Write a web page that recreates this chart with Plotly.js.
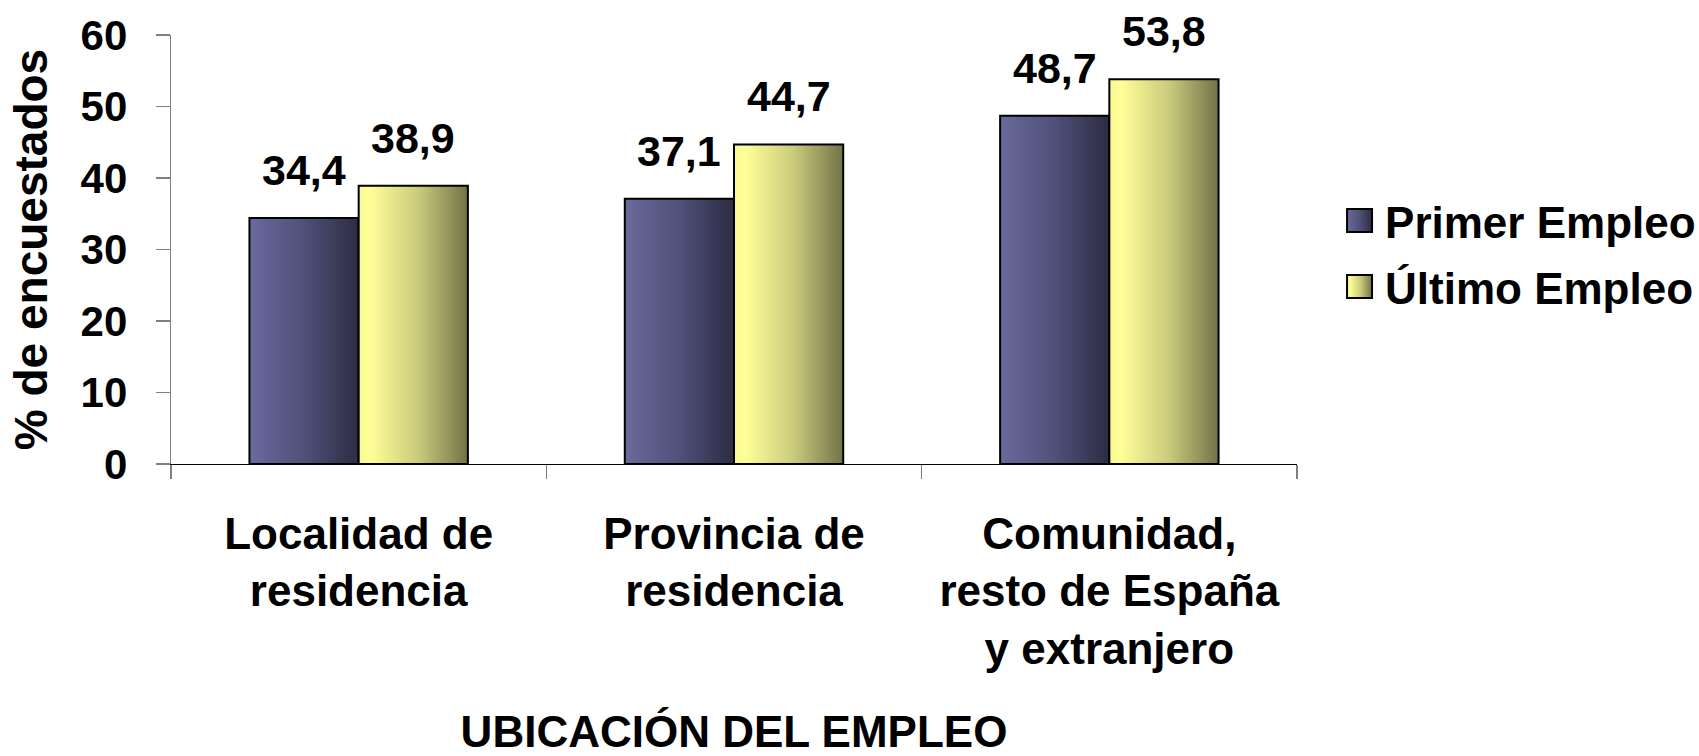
<!DOCTYPE html>
<html>
<head>
<meta charset="utf-8">
<script src="https://cdn.plot.ly/plotly-3.0.1.min.js"></script>
<style>
html,body{margin:0;padding:0;background:#ffffff;}
#chart{width:1699px;height:756px;}
</style>
</head>
<body>
<div id="chart"></div>
<script>
// ---- data ----
const categories = ['Localidad de<br>residencia', 'Provincia de<br>residencia', 'Comunidad,<br>resto de España<br>y extranjero'];
const seriesNames = ['Primer Empleo', 'Último Empleo'];
const primerEmpleo = [34.4, 37.1, 48.7];
const ultimoEmpleo = [38.9, 44.7, 53.8];
const yTickVals = [0, 10, 20, 30, 40, 50, 60];
const xTitle = 'UBICACIÓN DEL EMPLEO';
const yTitle = '% de encuestados';

// ---- style ----
const FONT = 'Liberation Sans, Arial, Helvetica, sans-serif';
const BARGAP = 0.418;
const series = [primerEmpleo, ultimoEmpleo];
const baseColors = ['#55557f', '#d6d67e'];
const gradIds = ['gradPrimer', 'gradUltimo'];

const data = series.map((vals, i) => ({
  type: 'bar',
  name: seriesNames[i],
  legendgroup: 'g' + i,
  x: categories,
  y: vals,
  marker: {color: baseColors[i], line: {color: '#000000', width: 2}},
  hoverinfo: 'none'
}));

// value labels above bars (annotations placed from the data values)
const barW = (1 - BARGAP) / series.length;
const annotations = [];
series.forEach((vals, i) => {
  vals.forEach((v, j) => {
    annotations.push({
      xref: 'x', yref: 'y',
      x: j - (1 - BARGAP) / 2 + barW * (i + 0.5),
      y: v,
      text: v.toFixed(1).replace('.', ','),
      showarrow: false,
      xanchor: 'center', yanchor: 'bottom',
      yshift: 22,
      font: {family: FONT, size: 43, color: '#000000', weight: 'bold'}
    });
  });
});

const layout = {
  width: 1699, height: 756,
  margin: {l: 171, r: 402, t: 35, b: 291.5, pad: 0, autoexpand: false},
  paper_bgcolor: '#ffffff', plot_bgcolor: '#ffffff',
  bargap: BARGAP, bargroupgap: 0,
  barmode: 'group',
  separators: ',.',
  showlegend: true,
  legend: {
    x: 1.0329, xanchor: 'left', y: 0.49, yanchor: 'middle',
    font: {family: FONT, size: 44, color: '#000000', weight: 'bold'},
    bgcolor: 'rgba(0,0,0,0)', borderwidth: 0, itemwidth: 41,
    tracegroupgap: 6
  },
  xaxis: {
    type: 'category',
    showline: true, linecolor: '#000000', linewidth: 1.3,
    ticks: 'outside', ticklen: 14, tickcolor: '#808080', tickwidth: 1.3,
    tickson: 'boundaries',
    showgrid: false, zeroline: false,
    tickfont: {family: FONT, size: 44, color: '#000000', weight: 'bold'},
    ticklabelstandoff: 31,
    title: {text: xTitle, standoff: 55, font: {family: FONT, size: 44, color: '#000000', weight: 'bold'}}
  },
  yaxis: {
    range: [0, 60], tickvals: yTickVals,
    showline: true, linecolor: '#808080', linewidth: 1.3,
    ticks: 'outside', ticklen: 14, tickcolor: '#808080', tickwidth: 1.3,
    showgrid: false, zeroline: false,
    tickfont: {family: FONT, size: 42, color: '#000000', weight: 'bold'},
    ticklabelstandoff: 20,
    title: {text: yTitle, standoff: 18, font: {family: FONT, size: 46, color: '#000000', weight: 'bold'}}
  },
  annotations: annotations
};

Plotly.newPlot('chart', data, layout, {displayModeBar: false, staticPlot: true}).then(gd => {
  const NS = 'http://www.w3.org/2000/svg';
  const svg = gd.querySelector('svg.main-svg');
  let defs = svg.querySelector('defs');
  if (!defs) { defs = document.createElementNS(NS, 'defs'); svg.insertBefore(defs, svg.firstChild); }
  function addGrad(id, stops) {
    const lg = document.createElementNS(NS, 'linearGradient');
    lg.setAttribute('id', id);
    lg.setAttribute('x1', '0'); lg.setAttribute('y1', '0');
    lg.setAttribute('x2', '1'); lg.setAttribute('y2', '0');
    stops.forEach(([o, c]) => {
      const s = document.createElementNS(NS, 'stop');
      s.setAttribute('offset', o); s.setAttribute('stop-color', c);
      lg.appendChild(s);
    });
    defs.appendChild(lg);
  }
  addGrad('gradPrimer', [[0, '#6a6a9c'], [0.5, '#50507a'], [1, '#2c2c42']]);
  addGrad('gradUltimo', [[0, '#f8f894'], [0.1, '#ffff99'], [0.55, '#caca7c'], [1, '#727248']]);

  gd.querySelectorAll('.barlayer .trace.bars').forEach((tr, i) => {
    tr.querySelectorAll('path').forEach(p => { p.style.fill = 'url(#' + gradIds[i] + ')'; });
  });
  gd.querySelectorAll('.legend .traces').forEach((tr, i) => {
    tr.querySelectorAll('.legendpoints path').forEach(p => {
      p.setAttribute('d', 'M12.5,11.5H-12.5V-11.5H12.5Z');
      p.style.fill = 'url(#' + gradIds[i] + ')';
      p.style.stroke = '#000000';
      p.style.strokeWidth = '2px';
    });
  });
});
</script>
</body>
</html>
